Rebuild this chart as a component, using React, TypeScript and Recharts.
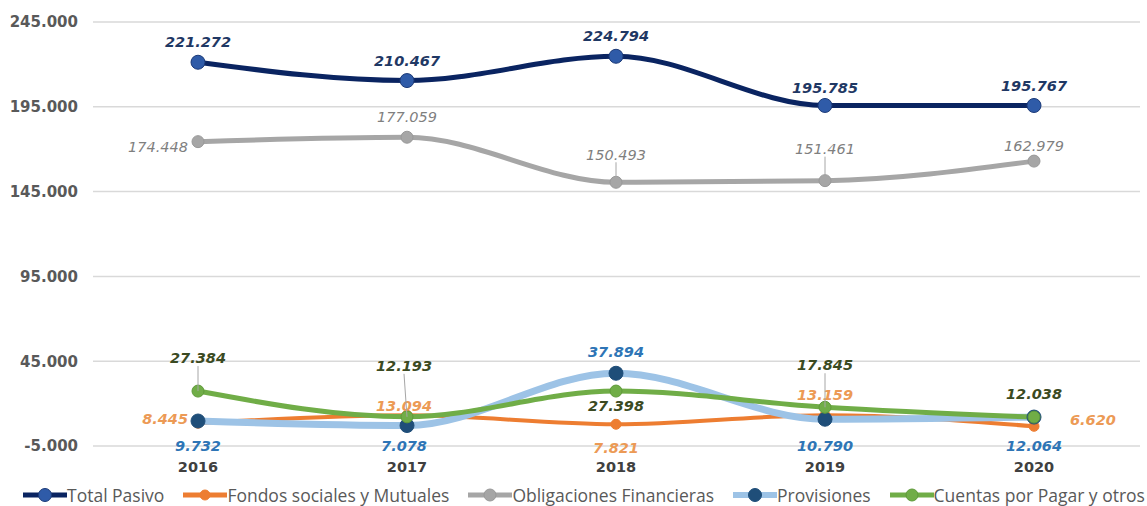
import React from 'react';
import { LineChart, Line, XAxis, YAxis, CartesianGrid, Legend, LabelList } from 'recharts';

// ---------- data ----------
const years = ['2016', '2017', '2018', '2019', '2020'];
const totalPasivo = [221272, 210467, 224794, 195785, 195767];
const fondosSociales = [8445, 13094, 7821, 13159, 6620];
const obligaciones = [174448, 177059, 150493, 151461, 162979];
const provisiones = [9732, 7078, 37894, 10790, 12064];
const cuentasPorPagar = [27384, 12193, 27398, 17845, 12038];
const yTicks = [-5000, 45000, 95000, 145000, 195000, 245000];

const rows = years.map((year, i) => ({
  year,
  total: totalPasivo[i],
  fondos: fondosSociales[i],
  oblig: obligaciones[i],
  prov: provisiones[i],
  cuentas: cuentasPorPagar[i],
}));

// ---------- styles ----------
const FONT = '"DejaVu Sans", sans-serif';

type Off = [number, number, 'start' | 'middle' | 'end', boolean];

const SERIES = [
  {
    key: 'total', name: 'Total Pasivo', stroke: '#0a2461', width: 5,
    dotFill: '#2f5ba8', dotStroke: '#1c3a78', r: 7,
    labelColor: '#1f3864', weight: 'bold',
    offsets: [[0, -20, 'middle', false], [0, -20, 'middle', false], [0, -20, 'middle', false], [0, -18, 'middle', false], [0, -20, 'middle', false]] as Off[],
  },
  {
    key: 'fondos', name: 'Fondos sociales y Mutuales', stroke: '#ed7d31', width: 4,
    dotFill: '#ed7d31', dotStroke: '#ed7d31', r: 5,
    labelColor: '#ec9a55', weight: 'bold',
    offsets: [[-10, -4, 'end', false], [-3, -10, 'middle', false], [0, 24, 'middle', false], [0, -20, 'middle', false], [36, -7, 'start', false]] as Off[],
  },
  {
    key: 'oblig', name: 'Obligaciones Financieras', stroke: '#a6a6a6', width: 5,
    dotFill: '#a6a6a6', dotStroke: '#999999', r: 6,
    labelColor: '#7f7f7f', weight: 'normal',
    offsets: [[-10, 5, 'end', false], [0, -20, 'middle', false], [0, -28, 'middle', true], [0, -32, 'middle', true], [0, -15, 'middle', false]] as Off[],
  },
  {
    key: 'prov', name: 'Provisiones', stroke: '#9dc3e6', width: 7,
    dotFill: '#1f4e79', dotStroke: '#1f4e79', r: 7,
    labelColor: '#2e75b6', weight: 'bold',
    offsets: [[0, 25, 'middle', false], [-3, 20, 'middle', false], [0, -21, 'middle', false], [0, 27, 'middle', false], [0, 29, 'middle', false]] as Off[],
  },
  {
    key: 'cuentas', name: 'Cuentas por Pagar y otros', stroke: '#70ad47', width: 5,
    dotFill: '#70ad47', dotStroke: '#5f9a3a', r: 6,
    labelColor: '#3b4a22', weight: 'bold',
    offsets: [[0, -33, 'middle', true], [-3, -51, 'middle', true], [0, 15, 'middle', false], [0, -42, 'middle', true], [0, -23, 'middle', false]] as Off[],
  },
];

const fmt = (v: number) => {
  const s = Math.abs(Math.round(v)).toString().replace(/\B(?=(\d{3})+(?!\d))/g, '.');
  return (v < 0 ? '-' : '') + s;
};

const makeLabel = (cfg: typeof SERIES[number]) => (props: any) => {
  const { x, y, index, value } = props;
  if (x == null || y == null) return null;
  const [dx, dy, anchor, leader] = cfg.offsets[index] || [0, -20, 'middle', false];
  const lx = x + dx;
  const ly = y + dy;
  return (
    <g key={`${cfg.key}-${index}`}>
      {leader && (
        <line x1={x} y1={y} x2={lx} y2={dy < 0 ? ly + 8 : ly - 8} stroke="#a6a6a6" strokeWidth={1} />
      )}
      <text
        x={lx}
        y={ly}
        dy="0.36em"
        textAnchor={anchor}
        fontFamily={FONT}
        fontSize={14.5}
        fontStyle="italic"
        fontWeight={cfg.weight}
        fill={cfg.labelColor}
      >
        {fmt(Number(value))}
      </text>
    </g>
  );
};

const YTick = (props: any) => {
  const { y, payload } = props;
  return (
    <text x={78} y={y} dy="0.36em" textAnchor="end" fontFamily={FONT} fontSize={15} fontWeight="bold" fill="#595959">
      {fmt(payload.value)}
    </text>
  );
};

const XTick = (props: any) => {
  const { x, payload } = props;
  return (
    <text x={x} y={467} dy="0.36em" textAnchor="middle" fontFamily={FONT} fontSize={14.5} fontWeight="bold" fill="#404040">
      {payload.value}
    </text>
  );
};

const LegendContent = () => (
  <div
    style={{
      display: 'flex',
      alignItems: 'center',
      justifyContent: 'space-between',
      boxSizing: 'border-box',
      width: 1147,
      paddingLeft: 23,
      paddingRight: 2,
      paddingTop: 8,
      fontFamily: '"Open Sans", sans-serif',
      fontSize: 17.5,
      color: '#595959',
      whiteSpace: 'nowrap',
      height: 30,
    }}
  >
    {SERIES.map((s) => (
      <div key={s.key} style={{ display: 'flex', alignItems: 'center' }}>
        <svg width={44} height={16} style={{ display: 'block' }}>
          <line x1={0} y1={8} x2={44} y2={8} stroke={s.stroke} strokeWidth={s.key === 'prov' ? 6 : 5} />
          <circle cx={22} cy={8} r={Math.min(s.r, 6.5)} fill={s.dotFill} stroke={s.dotStroke} strokeWidth={1} />
        </svg>
        <span>{s.name}</span>
      </div>
    ))}
  </div>
);

export default function App() {
  return (
    <div style={{ position: 'absolute', left: 0, top: 0, width: 1147, height: 506, background: '#ffffff' }}>
      <LineChart width={1147} height={506} data={rows} margin={{ top: 22, right: 7, left: 0, bottom: 0 }}>
        <CartesianGrid horizontal vertical={false} stroke="#d9d9d9" strokeWidth={1.5} />
        <XAxis
          dataKey="year"
          axisLine={false}
          tickLine={false}
          height={30}
          padding={{ left: 105, right: 106 }}
          tick={<XTick />}
          interval={0}
        />
        <YAxis
          type="number"
          domain={[-5000, 245000]}
          ticks={yTicks}
          axisLine={false}
          tickLine={false}
          width={93}
          tick={<YTick />}
          interval={0}
        />
        <Legend verticalAlign="bottom" height={30} content={<LegendContent />} wrapperStyle={{ left: 0, width: 1147, bottom: 0 }} />
        {SERIES.map((s) => (
          <Line
            key={s.key}
            dataKey={s.key}
            name={s.name}
            type="monotone"
            stroke={s.stroke}
            strokeWidth={s.width}
            dot={{ r: s.r, fill: s.dotFill, stroke: s.dotStroke, strokeWidth: 1 }}
            activeDot={false}
            isAnimationActive={false}
          >
            <LabelList dataKey={s.key} content={makeLabel(s)} />
          </Line>
        ))}
      </LineChart>
    </div>
  );
}
